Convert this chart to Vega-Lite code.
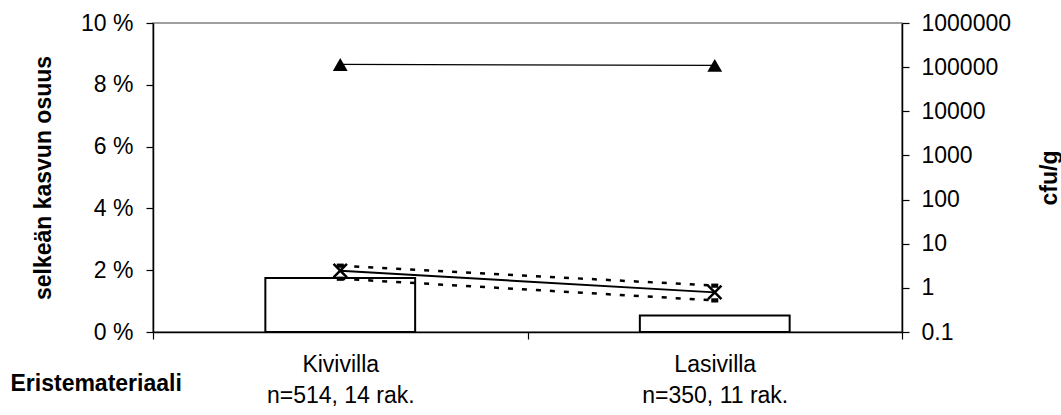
{
  "$schema": "https://vega.github.io/schema/vega-lite/v6.json",
  "width": 749,
  "height": 309,
  "autosize": "none",
  "padding": {"left": 153, "top": 23, "right": 159, "bottom": 83},
  "background": "white",
  "config": {
    "font": "Liberation Sans",
    "view": {"stroke": "#808080", "strokeWidth": 1.5},
    "axis": {
      "labelFont": "Liberation Sans",
      "titleFont": "Liberation Sans",
      "labelFontSize": 23,
      "titleFontSize": 23,
      "labelColor": "black",
      "titleColor": "black",
      "domainColor": "black",
      "tickColor": "black",
      "domainWidth": 1.5,
      "tickWidth": 1.2,
      "tickSize": 7,
      "grid": false
    }
  },
  "datasets": {
    "share": [
      {"cat": "Kivivilla|n=514, 14 rak.", "pct": 1.75},
      {"cat": "Lasivilla|n=350, 11 rak.", "pct": 0.53}
    ],
    "counts": [
      {"cat": "Kivivilla|n=514, 14 rak.", "series": "max", "cfu": 115000},
      {"cat": "Lasivilla|n=350, 11 rak.", "series": "max", "cfu": 110000},
      {"cat": "Kivivilla|n=514, 14 rak.", "series": "mean", "cfu": 2.45},
      {"cat": "Lasivilla|n=350, 11 rak.", "series": "mean", "cfu": 0.79},
      {"cat": "Kivivilla|n=514, 14 rak.", "series": "upper", "cfu": 3.18},
      {"cat": "Lasivilla|n=350, 11 rak.", "series": "upper", "cfu": 1.12},
      {"cat": "Kivivilla|n=514, 14 rak.", "series": "lower", "cfu": 1.61},
      {"cat": "Lasivilla|n=350, 11 rak.", "series": "lower", "cfu": 0.52}
    ]
  },
  "layer": [
    {
      "data": {"name": "share"},
      "mark": {"type": "bar", "width": {"band": 0.4}, "fill": "white", "stroke": "black", "strokeWidth": 2},
      "encoding": {
        "x": {
          "field": "cat",
          "type": "nominal",
          "sort": null,
          "scale": {"paddingInner": 0, "paddingOuter": 0},
          "axis": {
            "title": "Eristemateriaali",
            "titleFontWeight": "bold",
            "titleX": -143,
            "titleY": 51,
            "titleAlign": "left",
            "titleBaseline": "middle",
            "titleAngle": 0,
            "labelAngle": 0,
            "labelExpr": "split(datum.label, '|')",
            "labelLineHeight": 31,
            "labelPadding": 14,
            "tickBand": "extent",
            "domain": true
          }
        },
        "y": {
          "field": "pct",
          "type": "quantitative",
          "scale": {"domain": [0, 10], "nice": false},
          "axis": {
            "orient": "left",
            "values": [0, 2, 4, 6, 8, 10],
            "labelExpr": "datum.value + ' %'",
            "labelPadding": 13,
            "title": "selkeän kasvun osuus",
            "titleFontWeight": "bold",
            "titlePadding": 25
          }
        }
      }
    },
    {
      "data": {"name": "counts"},
      "encoding": {
        "x": {"field": "cat", "type": "nominal", "sort": null},
        "y": {
          "field": "cfu",
          "type": "quantitative",
          "scale": {"type": "log", "domain": [0.1, 1000000], "nice": false},
          "axis": {
            "orient": "right",
            "values": [0.1, 1, 10, 100, 1000, 10000, 100000, 1000000],
            "labelExpr": "datum.value < 1 ? '0.1' : format(datum.value, 'd')",
            "labelPadding": 12,
            "title": "cfu/g",
            "titleFontWeight": "bold",
            "titleAngle": 270,
            "titlePadding": 51
          }
        }
      },
      "layer": [
        {
          "transform": [{"filter": "datum.series == 'max'"}],
          "mark": {"type": "line", "color": "black", "strokeWidth": 1.2}
        },
        {
          "transform": [{"filter": "datum.series == 'max'"}],
          "mark": {"type": "point", "shape": "triangle-up", "size": 220, "filled": true, "color": "black", "opacity": 1}
        },
        {
          "transform": [{"filter": "datum.series == 'upper'"}],
          "mark": {"type": "line", "color": "black", "strokeWidth": 2.5, "strokeDash": [5, 9]}
        },
        {
          "transform": [{"filter": "datum.series == 'lower'"}],
          "mark": {"type": "line", "color": "black", "strokeWidth": 2.5, "strokeDash": [5, 9]}
        },
        {
          "transform": [{"filter": "datum.series == 'upper' || datum.series == 'lower'"}],
          "mark": {"type": "point", "shape": "M-1,-0.6L1,-0.6L1,0.6L-1,0.6Z", "size": 49, "filled": true, "color": "black", "opacity": 1}
        },
        {
          "transform": [{"filter": "datum.series == 'mean'"}],
          "mark": {"type": "line", "color": "black", "strokeWidth": 2}
        },
        {
          "transform": [{"filter": "datum.series == 'mean'"}],
          "mark": {"type": "point", "shape": "M-1,-1L1,1M-1,1L1,-1", "size": 180, "filled": false, "color": "black", "strokeWidth": 2.5, "opacity": 1}
        }
      ]
    }
  ],
  "resolve": {"scale": {"y": "independent"}}
}
